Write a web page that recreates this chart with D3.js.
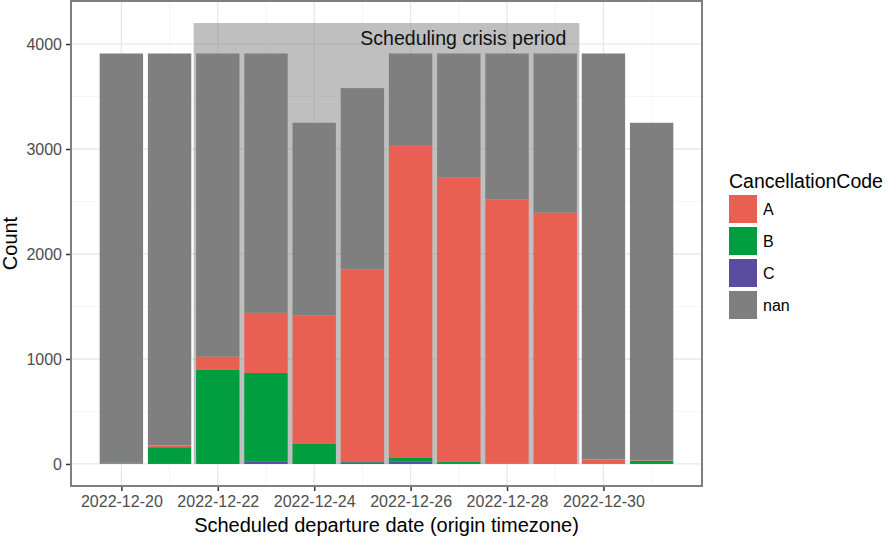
<!DOCTYPE html>
<html>
<head>
<meta charset="utf-8">
<script src="https://cdn.jsdelivr.net/npm/d3@7"></script>
<style>
  html, body { margin: 0; padding: 0; background: #fff; }
  svg { display: block; font-family: "Liberation Sans", Arial, Helvetica, sans-serif; }
</style>
</head>
<body>
<svg id="chart" width="886" height="537"></svg>
<script>
// ---- data ----
const dates = ["2022-12-20","2022-12-21","2022-12-22","2022-12-23","2022-12-24","2022-12-25",
               "2022-12-26","2022-12-27","2022-12-28","2022-12-29","2022-12-30","2022-12-31"];
const codes = ["A", "B", "C", "nan"];
const countA   = [10, 17, 126, 573, 1226, 1828, 2974, 2705, 2518, 2394, 41, 5];
const countB   = [0, 160, 896, 842, 190, 10, 32, 22, 3, 0, 0, 32];
const countC   = [0, 0, 0, 25, 0, 15, 25, 0, 0, 0, 0, 0];
const countNan = [3900, 3733, 2888, 2470, 1834, 1727, 879, 1183, 1389, 1516, 3869, 3213];
const yTicks = [0, 1000, 2000, 3000, 4000];
const xTickDates = ["2022-12-20","2022-12-22","2022-12-24","2022-12-26","2022-12-28","2022-12-30"];
const crisisStart = "2022-12-21T12:00";
const crisisEnd = "2022-12-29T12:00";
const crisisTop = 4200;
const crisisLabel = "Scheduling crisis period";
const colors = { A: "#E95F51", B: "#009E3E", C: "#5A4DA0", nan: "#7F7F7F" };

// ---- layout ----
const svg = d3.select("#chart");
const P = { left: 71, right: 702, top: 1, bottom: 486 };
const DAY = 86400000;
const parse = s => new Date(s.length > 10 ? s + ":00Z" : s + "T00:00:00Z");
const dArr = dates.map(parse);

const x0 = +dArr[0] - 0.45 * DAY, x1 = +dArr[dArr.length - 1] + 0.45 * DAY;
const xPad = (x1 - x0) * 0.05;
const x = d3.scaleUtc().domain([new Date(x0 - xPad), new Date(x1 + xPad)]).range([P.left, P.right]);
const yPad = crisisTop * 0.05;
const y = d3.scaleLinear().domain([-yPad, crisisTop + yPad]).range([P.bottom, P.top]);

// grid
const g = svg.append("g");
const minorY = [500, 1500, 2500, 3500];
g.selectAll(".gmy").data(minorY).join("line")
  .attr("x1", P.left).attr("x2", P.right).attr("y1", d => y(d)).attr("y2", d => y(d))
  .attr("stroke", "#f2f2f2").attr("stroke-width", 0.8);
const minorX = dates.filter((d, i) => i % 2 === 1).map(parse);
g.selectAll(".gmx").data(minorX).join("line")
  .attr("y1", P.top).attr("y2", P.bottom).attr("x1", d => x(d)).attr("x2", d => x(d))
  .attr("stroke", "#f2f2f2").attr("stroke-width", 0.8);
g.selectAll(".gy").data(yTicks).join("line")
  .attr("x1", P.left).attr("x2", P.right).attr("y1", d => y(d)).attr("y2", d => y(d))
  .attr("stroke", "#e8e8e8").attr("stroke-width", 1.3);
g.selectAll(".gx").data(xTickDates.map(parse)).join("line")
  .attr("y1", P.top).attr("y2", P.bottom).attr("x1", d => x(d)).attr("x2", d => x(d))
  .attr("stroke", "#e8e8e8").attr("stroke-width", 1.3);

// crisis rect
svg.append("rect")
  .attr("x", x(parse(crisisStart))).attr("width", x(parse(crisisEnd)) - x(parse(crisisStart)))
  .attr("y", y(crisisTop)).attr("height", y(0) - y(crisisTop))
  .attr("fill", "#7f7f7f").attr("fill-opacity", 0.5);

// bars (stack: C bottom, then B, A, nan)
const rows = dates.map((d, i) => ({ date: dArr[i], A: countA[i], B: countB[i], C: countC[i], nan: countNan[i] }));
const stack = d3.stack().keys(["C", "B", "A", "nan"])(rows);
const bw = x(new Date(+dArr[0] + 0.9 * DAY)) - x(dArr[0]);
svg.append("g").selectAll("g").data(stack).join("g")
  .attr("fill", s => colors[s.key])
  .selectAll("rect").data(s => s).join("rect")
  .attr("x", d => x(d.data.date) - bw / 2).attr("width", bw)
  .attr("y", d => y(d[1])).attr("height", d => Math.max(0, y(d[0]) - y(d[1])));

// crisis label
svg.append("text")
  .attr("x", x(parse(crisisEnd)) - 13).attr("y", y(crisisTop) + 22)
  .attr("text-anchor", "end").attr("font-size", 19.5).attr("fill", "#111")
  .text(crisisLabel);

// panel border
svg.append("rect").attr("x", P.left).attr("y", P.top)
  .attr("width", P.right - P.left).attr("height", P.bottom - P.top)
  .attr("fill", "none").attr("stroke", "#7f7f7f").attr("stroke-width", 2);

// axes
const yAxis = svg.append("g").attr("transform", `translate(${P.left - 1},0)`)
  .call(d3.axisLeft(y).tickValues(yTicks).tickSize(4).tickPadding(4).tickFormat(d3.format("d")));
const xAxis = svg.append("g").attr("transform", `translate(0,${P.bottom + 1})`)
  .call(d3.axisBottom(x).tickValues(xTickDates.map(parse)).tickSize(4).tickPadding(5).tickFormat(d3.utcFormat("%Y-%m-%d")));
[yAxis, xAxis].forEach(a => {
  a.select(".domain").remove();
  a.selectAll(".tick line").attr("stroke", "#333").attr("stroke-width", 1.5);
  a.selectAll(".tick text").attr("fill", "#4d4d4d").attr("font-size", 16).attr("font-family", null);
});

// axis titles
svg.append("text").attr("x", (P.left + P.right) / 2).attr("y", 532)
  .attr("text-anchor", "middle").attr("font-size", 20).attr("fill", "#000")
  .text("Scheduled departure date (origin timezone)");
svg.append("text").attr("transform", `translate(17,${(P.top + P.bottom) / 2}) rotate(-90)`)
  .attr("text-anchor", "middle").attr("font-size", 20).attr("fill", "#000")
  .text("Count");

// legend
const lg = svg.append("g").attr("transform", "translate(729,0)");
lg.append("text").attr("x", 0).attr("y", 188).attr("font-size", 19.5).attr("fill", "#000").text("CancellationCode");
const li = lg.selectAll(".li").data(codes).join("g").attr("transform", (d, i) => `translate(0,${195 + i * 32})`);
li.append("rect").attr("width", 28).attr("height", 28).attr("fill", d => colors[d]);
li.append("text").attr("x", 34).attr("y", 20).attr("font-size", 16).attr("fill", "#000").text(d => d);
</script>
</body>
</html>
